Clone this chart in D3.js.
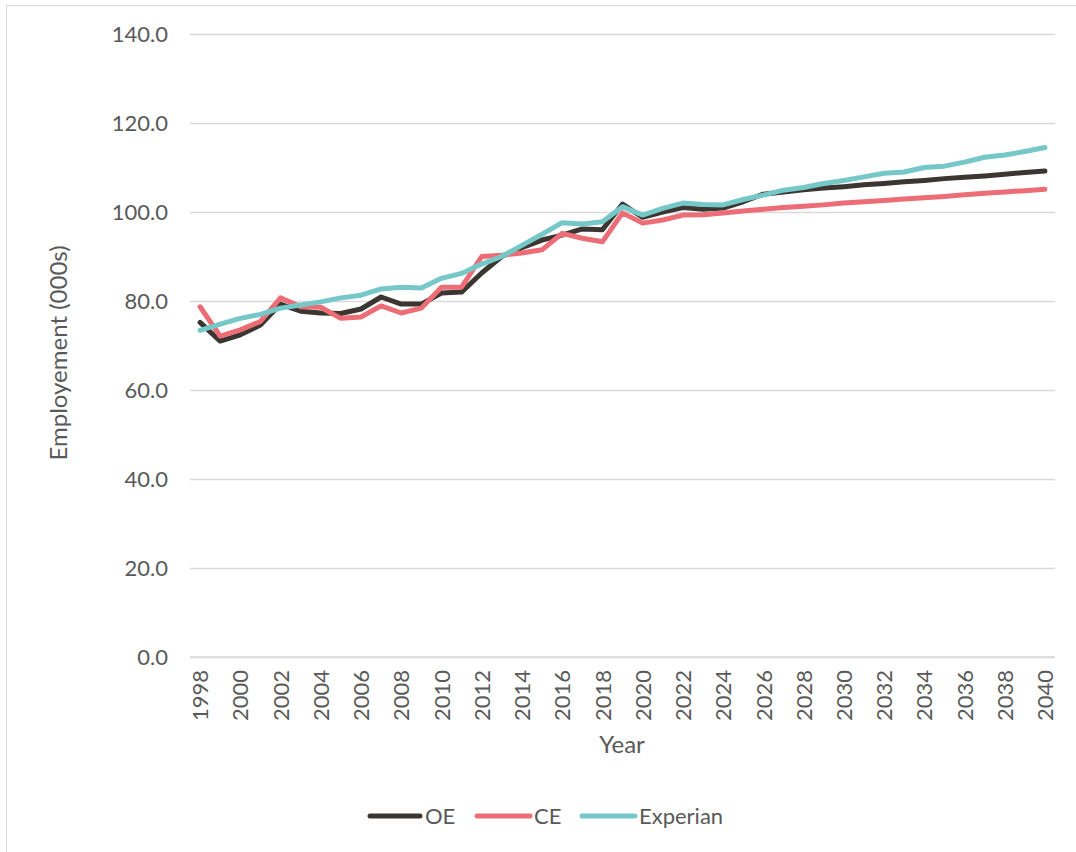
<!DOCTYPE html>
<html>
<head>
<meta charset="utf-8">
<script src="https://cdn.jsdelivr.net/npm/d3@7"></script>
<style>
  html, body { margin: 0; padding: 0; background: #fff; }
  svg text { font-family: Lato, "Open Sans", sans-serif; fill: #595959; }
</style>
</head>
<body>
<svg id="chart" width="1076" height="852"></svg>
<script>
// Employment series, thousands of jobs, 1998–2040
const years = d3.range(1998, 2041);

const oe = [75.2, 71.0, 72.4, 74.6, 79.3, 77.7, 77.3, 77.2, 78.2, 80.9,
            79.3, 79.3, 81.8, 82.0, 86.3, 90.0, 92.0, 93.7, 94.8, 96.2,
            96.0, 101.8, 98.8, 100.0, 101.0, 100.6, 100.9, 102.3, 104.0, 104.5,
            105.0, 105.4, 105.7, 106.1, 106.4, 106.8, 107.1, 107.5, 107.8, 108.1,
            108.5, 108.9, 109.2];

const ce = [78.7, 72.1, 73.5, 75.4, 80.7, 78.7, 78.6, 76.1, 76.4, 78.9,
            77.3, 78.4, 83.1, 83.1, 90.0, 90.3, 90.8, 91.5, 95.2, 94.1,
            93.3, 99.8, 97.5, 98.2, 99.3, 99.4, 99.8, 100.2, 100.6, 101.0,
            101.3, 101.6, 102.0, 102.3, 102.6, 102.9, 103.2, 103.5, 103.9, 104.2,
            104.5, 104.8, 105.1];

const experian = [73.4, 74.8, 76.1, 77.0, 78.4, 79.1, 79.8, 80.7, 81.3, 82.7,
                  83.1, 82.9, 85.1, 86.2, 88.3, 90.0, 92.5, 95.0, 97.6, 97.3,
                  97.8, 101.2, 99.3, 100.8, 102.0, 101.7, 101.6, 102.8, 103.8, 104.9,
                  105.5, 106.4, 107.1, 107.9, 108.7, 109.0, 110.0, 110.3, 111.2, 112.3,
                  112.8, 113.6, 114.5];

const yTicks = [0, 20, 40, 60, 80, 100, 120, 140];
const xTickYears = years.filter(y => (y - 1998) % 2 === 0);

const series = [
  { name: "OE", values: oe, color: "#3b3631" },
  { name: "CE", values: ce, color: "#ec6d75" },
  { name: "Experian", values: experian, color: "#75c8c7" }
];

const svg = d3.select("#chart");

// outer chart frame
svg.append("rect")
  .attr("x", 6.5).attr("y", 5.5)
  .attr("width", 1100).attr("height", 900)
  .attr("fill", "none").attr("stroke", "#d9d9d9").attr("stroke-width", 1);

const plot = { left: 190, right: 1055, top: 34, bottom: 657 };

const x = d3.scalePoint()
  .domain(years)
  .range([plot.left, plot.right])
  .padding(0.5);

const y = d3.scaleLinear()
  .domain([0, 140])
  .range([plot.bottom, plot.top]);

// horizontal gridlines + y labels
const yAxis = d3.axisLeft(y)
  .tickValues(yTicks)
  .tickSize(-(plot.right - plot.left))
  .tickPadding(22)
  .tickFormat(d3.format(".1f"));

const gy = svg.append("g")
  .attr("transform", `translate(${plot.left},0)`)
  .call(yAxis);
gy.select(".domain").remove();
gy.selectAll(".tick line").attr("stroke", "#d9d9d9").attr("stroke-width", 1.3);
gy.selectAll(".tick text")
  .attr("font-size", 22)
  .style("fill", "#595959");

// x axis: rotated year labels every two years
const xAxis = d3.axisBottom(x)
  .tickValues(xTickYears)
  .tickSize(0)
  .tickFormat(d => String(d));

const gx = svg.append("g")
  .attr("transform", `translate(0,${plot.bottom})`)
  .call(xAxis);
gx.select(".domain").attr("stroke", "#d9d9d9").attr("stroke-width", 1.3)
  .attr("d", `M${plot.left},0H${plot.right}`);
gx.selectAll(".tick text")
  .attr("font-size", 22)
  .style("fill", "#595959")
  .attr("text-anchor", "end")
  .attr("dy", "0.35em")
  .attr("transform", "translate(0,13) rotate(-90)")
  .attr("x", 0).attr("y", 0);

// axis titles
svg.append("text")
  .attr("x", 622).attr("y", 753)
  .attr("text-anchor", "middle")
  .attr("font-size", 24)
  .text("Year");

svg.append("text")
  .attr("transform", "translate(67,353) rotate(-90)")
  .attr("text-anchor", "middle")
  .attr("font-size", 24)
  .text("Employement (000s)");

// series lines
const line = d3.line()
  .x((d, i) => x(years[i]))
  .y(d => y(d));

svg.append("g").selectAll("path")
  .data(series)
  .join("path")
  .attr("d", s => line(s.values))
  .attr("fill", "none")
  .attr("stroke", s => s.color)
  .attr("stroke-width", 5)
  .attr("stroke-linejoin", "round")
  .attr("stroke-linecap", "round");

// legend
const legendItems = [
  { s: series[0], x0: 370, x1: 420, tx: 425 },
  { s: series[1], x0: 477, x1: 530, tx: 534 },
  { s: series[2], x0: 582, x1: 635, tx: 639 }
];
const lg = svg.append("g");
legendItems.forEach(it => {
  lg.append("line")
    .attr("x1", it.x0).attr("x2", it.x1)
    .attr("y1", 816).attr("y2", 816)
    .attr("stroke", it.s.color).attr("stroke-width", 5)
    .attr("stroke-linecap", "round");
  lg.append("text")
    .attr("x", it.tx).attr("y", 816)
    .attr("dy", "0.35em")
    .attr("font-size", 22)
    .text(it.s.name);
});
</script>
</body>
</html>
